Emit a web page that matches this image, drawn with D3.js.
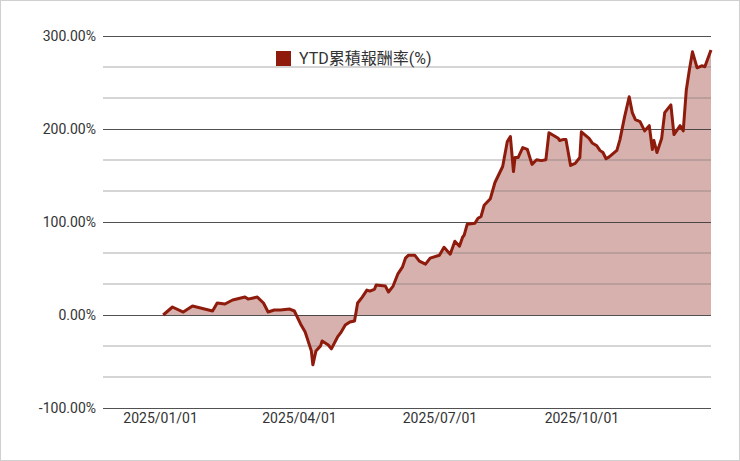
<!DOCTYPE html>
<html><head><meta charset="utf-8">
<script src="https://cdn.jsdelivr.net/npm/d3@7"></script>
<style>body{margin:0;background:#fff}text{font-family:Roboto,"Noto Sans CJK TC",sans-serif}</style>
</head><body><svg id="c" width="740" height="461"></svg>
<script>
const seriesName = "YTD累積報酬率(%)";
const days = [2,8,15,21,34,37,42,47,55,57,63,67,70,74,78,84,87,91,94,98,99,101,104,105,109,111,115,117,120,123,126,128,131,134,136,139,140,146,148,151,154,157,159,161,165,168,172,175,181,184,188,191,194,196,197,199,204,206,208,210,214,217,222,225,227,229,230,232,235,238,241,244,247,250,252,258,259,261,263,266,269,272,273,278,280,283,285,287,289,291,296,298,301,304,306,308,311,314,317,319,320,322,325,327,331,333,337,339,341,343,345,348,351,353,357];
const values = [0,8.6,3.2,9.6,4.3,12.9,11.8,16.1,19.3,17.1,19.3,12.9,3.2,5.4,5.4,6.4,4.3,-9.6,-18.2,-38.6,-53.6,-38.6,-33.2,-27.9,-32.2,-36.4,-23.6,-19.3,-10.7,-7.5,-6.4,12.9,19.3,26.8,25.7,27.9,32.2,31.1,24.7,31.1,43.9,51.4,61.1,64.3,64.3,57.9,54.7,61.1,64.3,72.9,65.4,79.3,74,83.6,85.7,97.5,98.6,104,106,118,125,142.5,159.7,186.5,191.9,154.3,169.3,169.3,180,178,162,167,166,167,196,190,187.6,188.6,188.6,160.8,163,169.3,197,190,185,182,177,174.7,168,170,177,188.6,213,234.7,217.6,210,208,198,203.6,178,187.6,174.7,189.7,217.6,226,194,203.6,198,242,263.7,283,265.8,268,266.9,285];
const yTicks = [-100,0,100,200,300];
const yMinor = [-66.67,-33.33,33.33,66.67,133.33,166.67,233.33,266.67];
const xTickLabels = ["2025/01/01","2025/04/01","2025/07/01","2025/10/01"];

const svg = d3.select("#c");
const start = new Date(2025,0,1);
const data = days.map((d,i)=>({date:d3.timeDay.offset(start,d), v:values[i]}));
const x = d3.scaleTime().domain([new Date(2024,10,25), new Date(2025,11,24)]).range([103,711]);
const y = d3.scaleLinear().domain([-100,300]).range([408,36]);

svg.append("rect").attr("x",0.5).attr("y",0.5).attr("width",739).attr("height",460).attr("fill","#fff").attr("stroke","#d0d0d0");

const area = d3.area().x(d=>x(d.date)).y0(y(0)).y1(d=>y(d.v));
svg.append("path").datum(data).attr("d",area).attr("fill","#d7b1ae");

svg.append("g").selectAll("line").data(yMinor).join("line")
 .attr("x1",103).attr("x2",711).attr("y1",d=>y(d)).attr("y2",d=>y(d))
 .attr("stroke","#777").attr("stroke-opacity",0.6).attr("stroke-width",1.2);
const ax = svg.append("g").attr("transform","translate(103,0)")
 .call(d3.axisLeft(y).tickValues(yTicks).tickSize(-608).tickFormat(d=>d.toFixed(2)+"%"));
ax.select(".domain").remove();
ax.selectAll("line").attr("stroke","#333").attr("stroke-opacity",0.85).attr("stroke-width",1.2);
ax.selectAll("text").attr("font-size",14).attr("fill","#333").attr("dx",-4);

const xa = svg.append("g").attr("transform","translate(0,408)")
 .call(d3.axisBottom(x).tickValues(xTickLabels.map(s=>d3.timeParse("%Y/%m/%d")(s))).tickSize(0).tickFormat(d3.timeFormat("%Y/%m/%d")));
xa.select(".domain").remove();
xa.selectAll("text").attr("font-size",14).attr("fill","#333").attr("dy",12);

svg.append("path").datum(data).attr("d",d3.line().x(d=>x(d.date)).y(d=>y(d.v)))
 .attr("fill","none").attr("stroke","#8e1b0c").attr("stroke-width",3).attr("stroke-linejoin","round");

svg.append("rect").attr("x",276).attr("y",51).attr("width",15).attr("height",15).attr("fill","#8e1b0c");
svg.append("text").attr("x",299).attr("y",64).attr("font-size",16).attr("fill","#333").text(seriesName);
</script></body></html>
